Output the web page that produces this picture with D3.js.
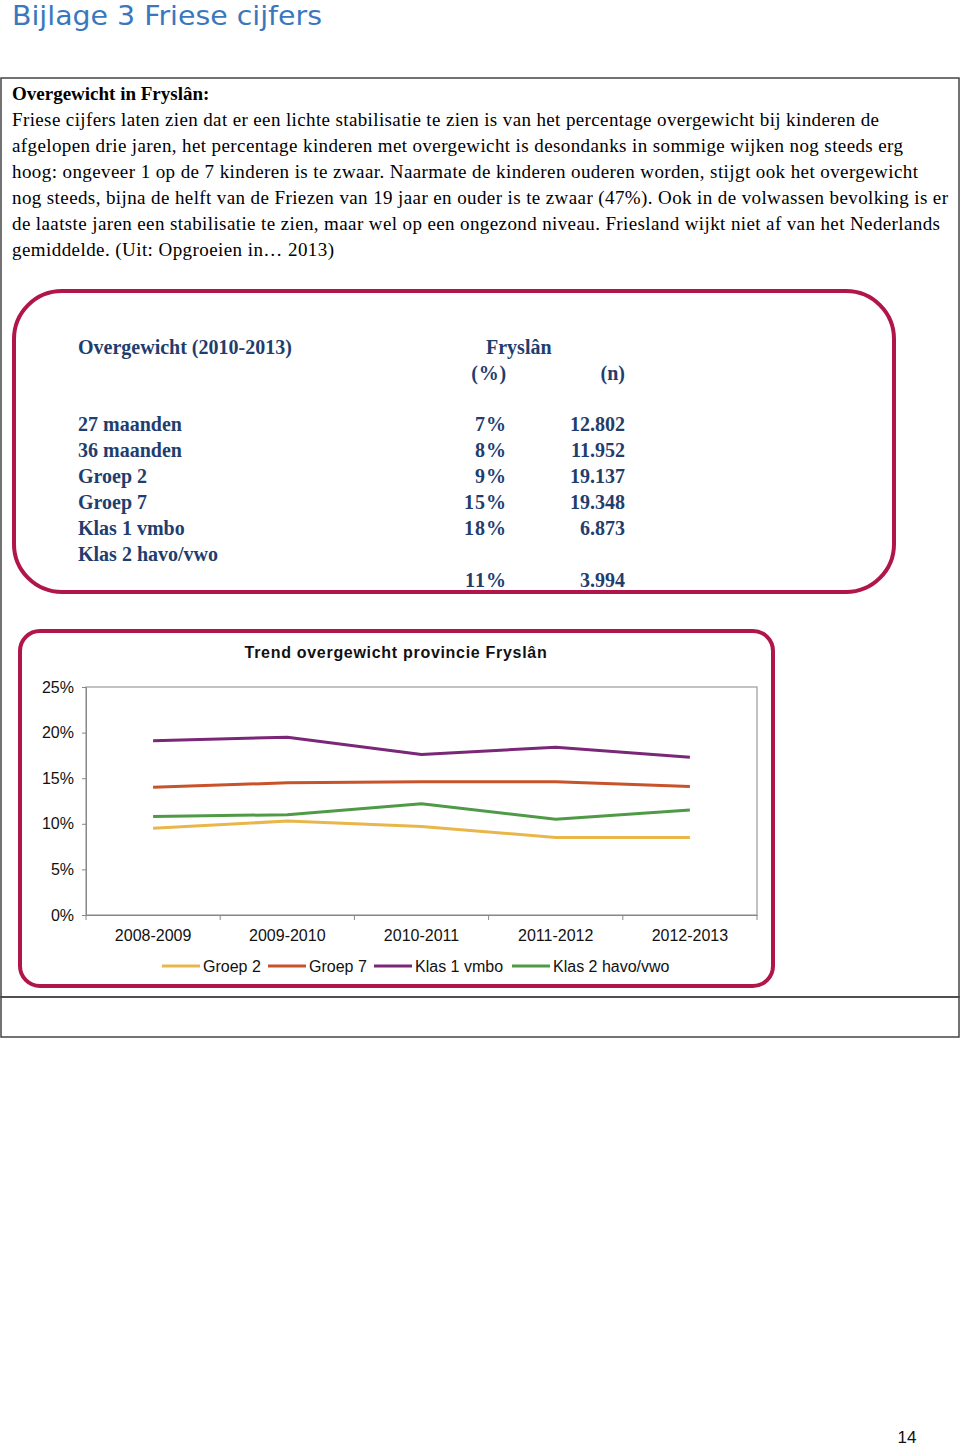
<!DOCTYPE html>
<html><head><meta charset="utf-8">
<script src="https://cdn.jsdelivr.net/npm/d3@7"></script>
<style>body{margin:0;background:#fff}svg{display:block}</style>
</head><body>
<svg id="c" width="960" height="1448"></svg>
<script>
// ---- data ----
const years = ["2008-2009","2009-2010","2010-2011","2011-2012","2012-2013"];
const seriesNames = ["Groep 2","Groep 7","Klas 1 vmbo","Klas 2 havo/vwo"];
const groep2 = [9.5, 10.3, 9.7, 8.5, 8.5];
const groep7 = [14.0, 14.5, 14.6, 14.6, 14.1];
const klas1vmbo = [19.1, 19.5, 17.6, 18.4, 17.3];
const klas2havovwo = [10.8, 11.0, 12.2, 10.5, 11.5];
const yTicks = [0, 5, 10, 15, 20, 25];
const tableRows = ["27 maanden","36 maanden","Groep 2","Groep 7","Klas 1 vmbo","Klas 2 havo/vwo"];
const tablePct = ["7%","8%","9%","15%","18%","11%"];
const tableN = ["12.802","11.952","19.137","19.348","6.873","3.994"];
const paragraph = [
 "Friese cijfers laten zien dat er een lichte stabilisatie te zien is van het percentage overgewicht bij kinderen de",
 "afgelopen drie jaren, het percentage kinderen met overgewicht is desondanks in sommige wijken nog steeds erg",
 "hoog: ongeveer 1 op de 7 kinderen is te zwaar. Naarmate de kinderen ouderen worden, stijgt ook het overgewicht",
 "nog steeds, bijna de helft van de Friezen van 19 jaar en ouder is te zwaar (47%). Ook in de volwassen bevolking is er",
 "de laatste jaren een stabilisatie te zien, maar wel op een ongezond niveau. Friesland wijkt niet af van het Nederlands",
 "gemiddelde. (Uit: Opgroeien in… 2013)"
];
const paraWidths = [867, 891, 906, 936, 928, 322];

const svg = d3.select("#c");
const crimson = "#B0164A";
const navy = "#1F3E6E";
const colors = ["#E9B64A","#C8532B","#7A2777","#4F9A47"];

// Title
svg.append("text").attr("x",12).attr("y",25).attr("font-family","DejaVu Sans, Verdana, sans-serif")
  .attr("font-size",27).attr("fill","#3A78BE").attr("textLength",310).attr("lengthAdjust","spacingAndGlyphs")
  .text("Bijlage 3 Friese cijfers");

// Outer cells
svg.append("rect").attr("x",1).attr("y",78).attr("width",958).attr("height",919)
  .attr("fill","none").attr("stroke","#444").attr("stroke-width",1.5);
svg.append("rect").attr("x",1).attr("y",997).attr("width",958).attr("height",40)
  .attr("fill","none").attr("stroke","#444").attr("stroke-width",1.5);

// paragraph
const serif = "Liberation Serif, Times New Roman, serif";
svg.append("text").attr("x",12).attr("y",100).attr("font-family",serif).attr("font-size",19)
  .attr("font-weight","bold").attr("fill","#000").text("Overgewicht in Fryslân:");
paragraph.forEach((l,i)=>{
  svg.append("text").attr("x",12).attr("y",126+i*26).attr("font-family",serif).attr("font-size",19)
    .attr("fill","#000").attr("textLength",paraWidths[i]).attr("lengthAdjust","spacing").text(l);
});

// Box 1 (table)
svg.append("rect").attr("x",14).attr("y",291).attr("width",880).attr("height",301).attr("rx",48).attr("ry",48)
  .attr("fill","#fff").attr("stroke",crimson).attr("stroke-width",4);
const tb = svg.append("g").attr("font-family",serif).attr("font-size",20).attr("font-weight","bold").attr("fill",navy);
tb.append("text").attr("x",78).attr("y",354).text("Overgewicht (2010-2013)");
tb.append("text").attr("x",486).attr("y",354).text("Fryslân");
tb.append("text").attr("x",507).attr("y",380).attr("text-anchor","end").attr("letter-spacing",0.8).text("(%)");
tb.append("text").attr("x",625).attr("y",380).attr("text-anchor","end").text("(n)");
tableRows.forEach((r,i)=>{
  tb.append("text").attr("x",78).attr("y",431+i*26).text(r);
  const vy = i===5 ? 587 : 431+i*26;
  tb.append("text").attr("x",507).attr("y",vy).attr("text-anchor","end").attr("letter-spacing",1).text(tablePct[i]);
  tb.append("text").attr("x",625).attr("y",vy).attr("text-anchor","end").text(tableN[i]);
});

// Box 2 (chart)
svg.append("rect").attr("x",20).attr("y",631).attr("width",753).attr("height",355).attr("rx",20).attr("ry",20)
  .attr("fill","#fff").attr("stroke",crimson).attr("stroke-width",4);

const arial = "Liberation Sans, Arial, sans-serif";
svg.append("text").attr("x",396).attr("y",658).attr("text-anchor","middle").attr("font-family",arial)
  .attr("font-size",16).attr("font-weight","bold").attr("letter-spacing",0.7).attr("fill","#111")
  .text("Trend overgewicht provincie Fryslân");

const x = d3.scaleBand().domain(years).range([86,757]);
const y = d3.scaleLinear().domain([0,25]).range([915,687]);

// plot border
svg.append("rect").attr("x",86).attr("y",y(25)).attr("width",757-86).attr("height",y(0)-y(25))
  .attr("fill","none").attr("stroke","#9a9a9a").attr("stroke-width",1.2);

const ya = svg.append("g").attr("transform","translate(86,0)")
  .call(d3.axisLeft(y).tickValues(yTicks).tickFormat(d=>d+"%").tickSize(4).tickPadding(8));
ya.select(".domain").attr("stroke","#888");
ya.selectAll(".tick line").attr("stroke","#888");
ya.selectAll("text").attr("font-family",arial).attr("font-size",16).attr("fill","#111");

const xa = svg.append("g").attr("transform",`translate(0,${y(0)})`)
  .call(d3.axisBottom(x).tickSize(0).tickPadding(15));
xa.select(".domain").attr("stroke","#888");
xa.selectAll("text").attr("font-family",arial).attr("font-size",16).attr("fill","#111");
// category boundary ticks
svg.append("g").selectAll("line").data(years).join("line")
  .attr("x1",d=>x(d)+x.bandwidth()).attr("x2",d=>x(d)+x.bandwidth())
  .attr("y1",y(0)).attr("y2",y(0)+5).attr("stroke","#888");
svg.append("line").attr("x1",86).attr("x2",86).attr("y1",y(0)).attr("y2",y(0)+5).attr("stroke","#888");

const allSeries = [groep2, groep7, klas1vmbo, klas2havovwo];
const line = d3.line().x((d,i)=>x(years[i])+x.bandwidth()/2).y(d=>y(d));
allSeries.forEach((s,k)=>{
  svg.append("path").datum(s).attr("d",line).attr("fill","none").attr("stroke",colors[k])
    .attr("stroke-width",3).attr("stroke-linejoin","round");
});

// legend
const legX = [162, 268, 374, 512];
const lg = svg.append("g");
seriesNames.forEach((n,k)=>{
  lg.append("line").attr("x1",legX[k]).attr("x2",legX[k]+38).attr("y1",966).attr("y2",966)
    .attr("stroke",colors[k]).attr("stroke-width",3);
  lg.append("text").attr("x",legX[k]+41).attr("y",972).attr("font-family",arial).attr("font-size",16)
    .attr("fill","#111").text(n);
});

// page number
svg.append("text").attr("x",907).attr("y",1443).attr("text-anchor","middle").attr("font-family",arial)
  .attr("font-size",17).attr("fill","#111").text("14");
</script>
</body></html>
